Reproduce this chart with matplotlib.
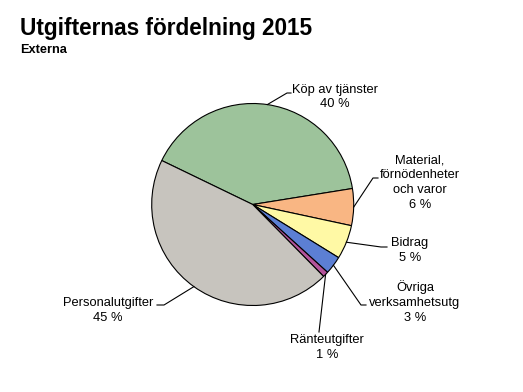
import numpy as np
import matplotlib
matplotlib.use('Agg')
import matplotlib.pyplot as plt

plt.rcParams['font.family'] = ['Liberation Sans', 'DejaVu Sans']

# Data (shares of total expenses, percent)
categories = ['Köp av tjänster', 'Material,\nförnödenheter\noch varor', 'Bidrag',
              'Övriga\nverksamhetsutg', 'Ränteutgifter', 'Personalutgifter']
shares = [40.3, 5.9, 5.45, 2.9, 0.9, 44.55]
colors = ['#9DC39B', '#F9B683', '#FFF9A5', '#5C7FD4', '#B3539A', '#C7C4BE']

W, H = 523, 392

fig = plt.figure(figsize=(W / 100, H / 100), dpi=100)
ax = fig.add_axes([0, 0, 1, 1])

cx, cy, r = 252.7, H - 204.5, 101
wedges, _ = ax.pie(shares, colors=colors, startangle=154.2, counterclock=False,
                   center=(cx, cy), radius=r,
                   wedgeprops=dict(edgecolor='black', linewidth=0.8))

ax.set_xlim(0, W)
ax.set_ylim(0, H)
ax.set_aspect('equal')
ax.axis('off')

# label layout in pixel coords (y down): elbow, line end, text centre
layout = [
    ((287, 93), (291, 93), (335, 97)),
    ((373, 178), (378, 178), (420, 182.5)),
    ((381, 247), (387, 247), (410, 250.5)),
    ((361, 305), (366, 305), (415, 302)),
    ((319, 332), (319, 332), (327, 347.5)),
    ((164, 305), (157, 305), (108, 310.5)),
]

for w, name, val, (elbow, end, txt) in zip(wedges, categories, shares, layout):
    mid = np.deg2rad((w.theta1 + w.theta2) / 2)
    ax0 = cx + r * np.cos(mid)
    ay0 = cy + r * np.sin(mid)
    xs = [ax0, elbow[0], end[0]]
    ys = [ay0, H - elbow[1], H - end[1]]
    ax.plot(xs, ys, color='black', linewidth=0.8)
    ax.text(txt[0], H - txt[1], f'{name}\n{val:.0f} %', ha='center', va='center',
            fontsize=9.3, linespacing=1.31, color='black')

fig.text(20 / W, 1 - 34.5 / H, 'Utgifternas fördelning 2015', fontsize=16.3,
         fontweight='bold', ha='left', va='baseline')
fig.text(20 / W, 1 - 53 / H, 'Externa', fontsize=9.2, fontweight='bold',
         ha='left', va='baseline')

fig.savefig('out.png', dpi=100, facecolor='white')
